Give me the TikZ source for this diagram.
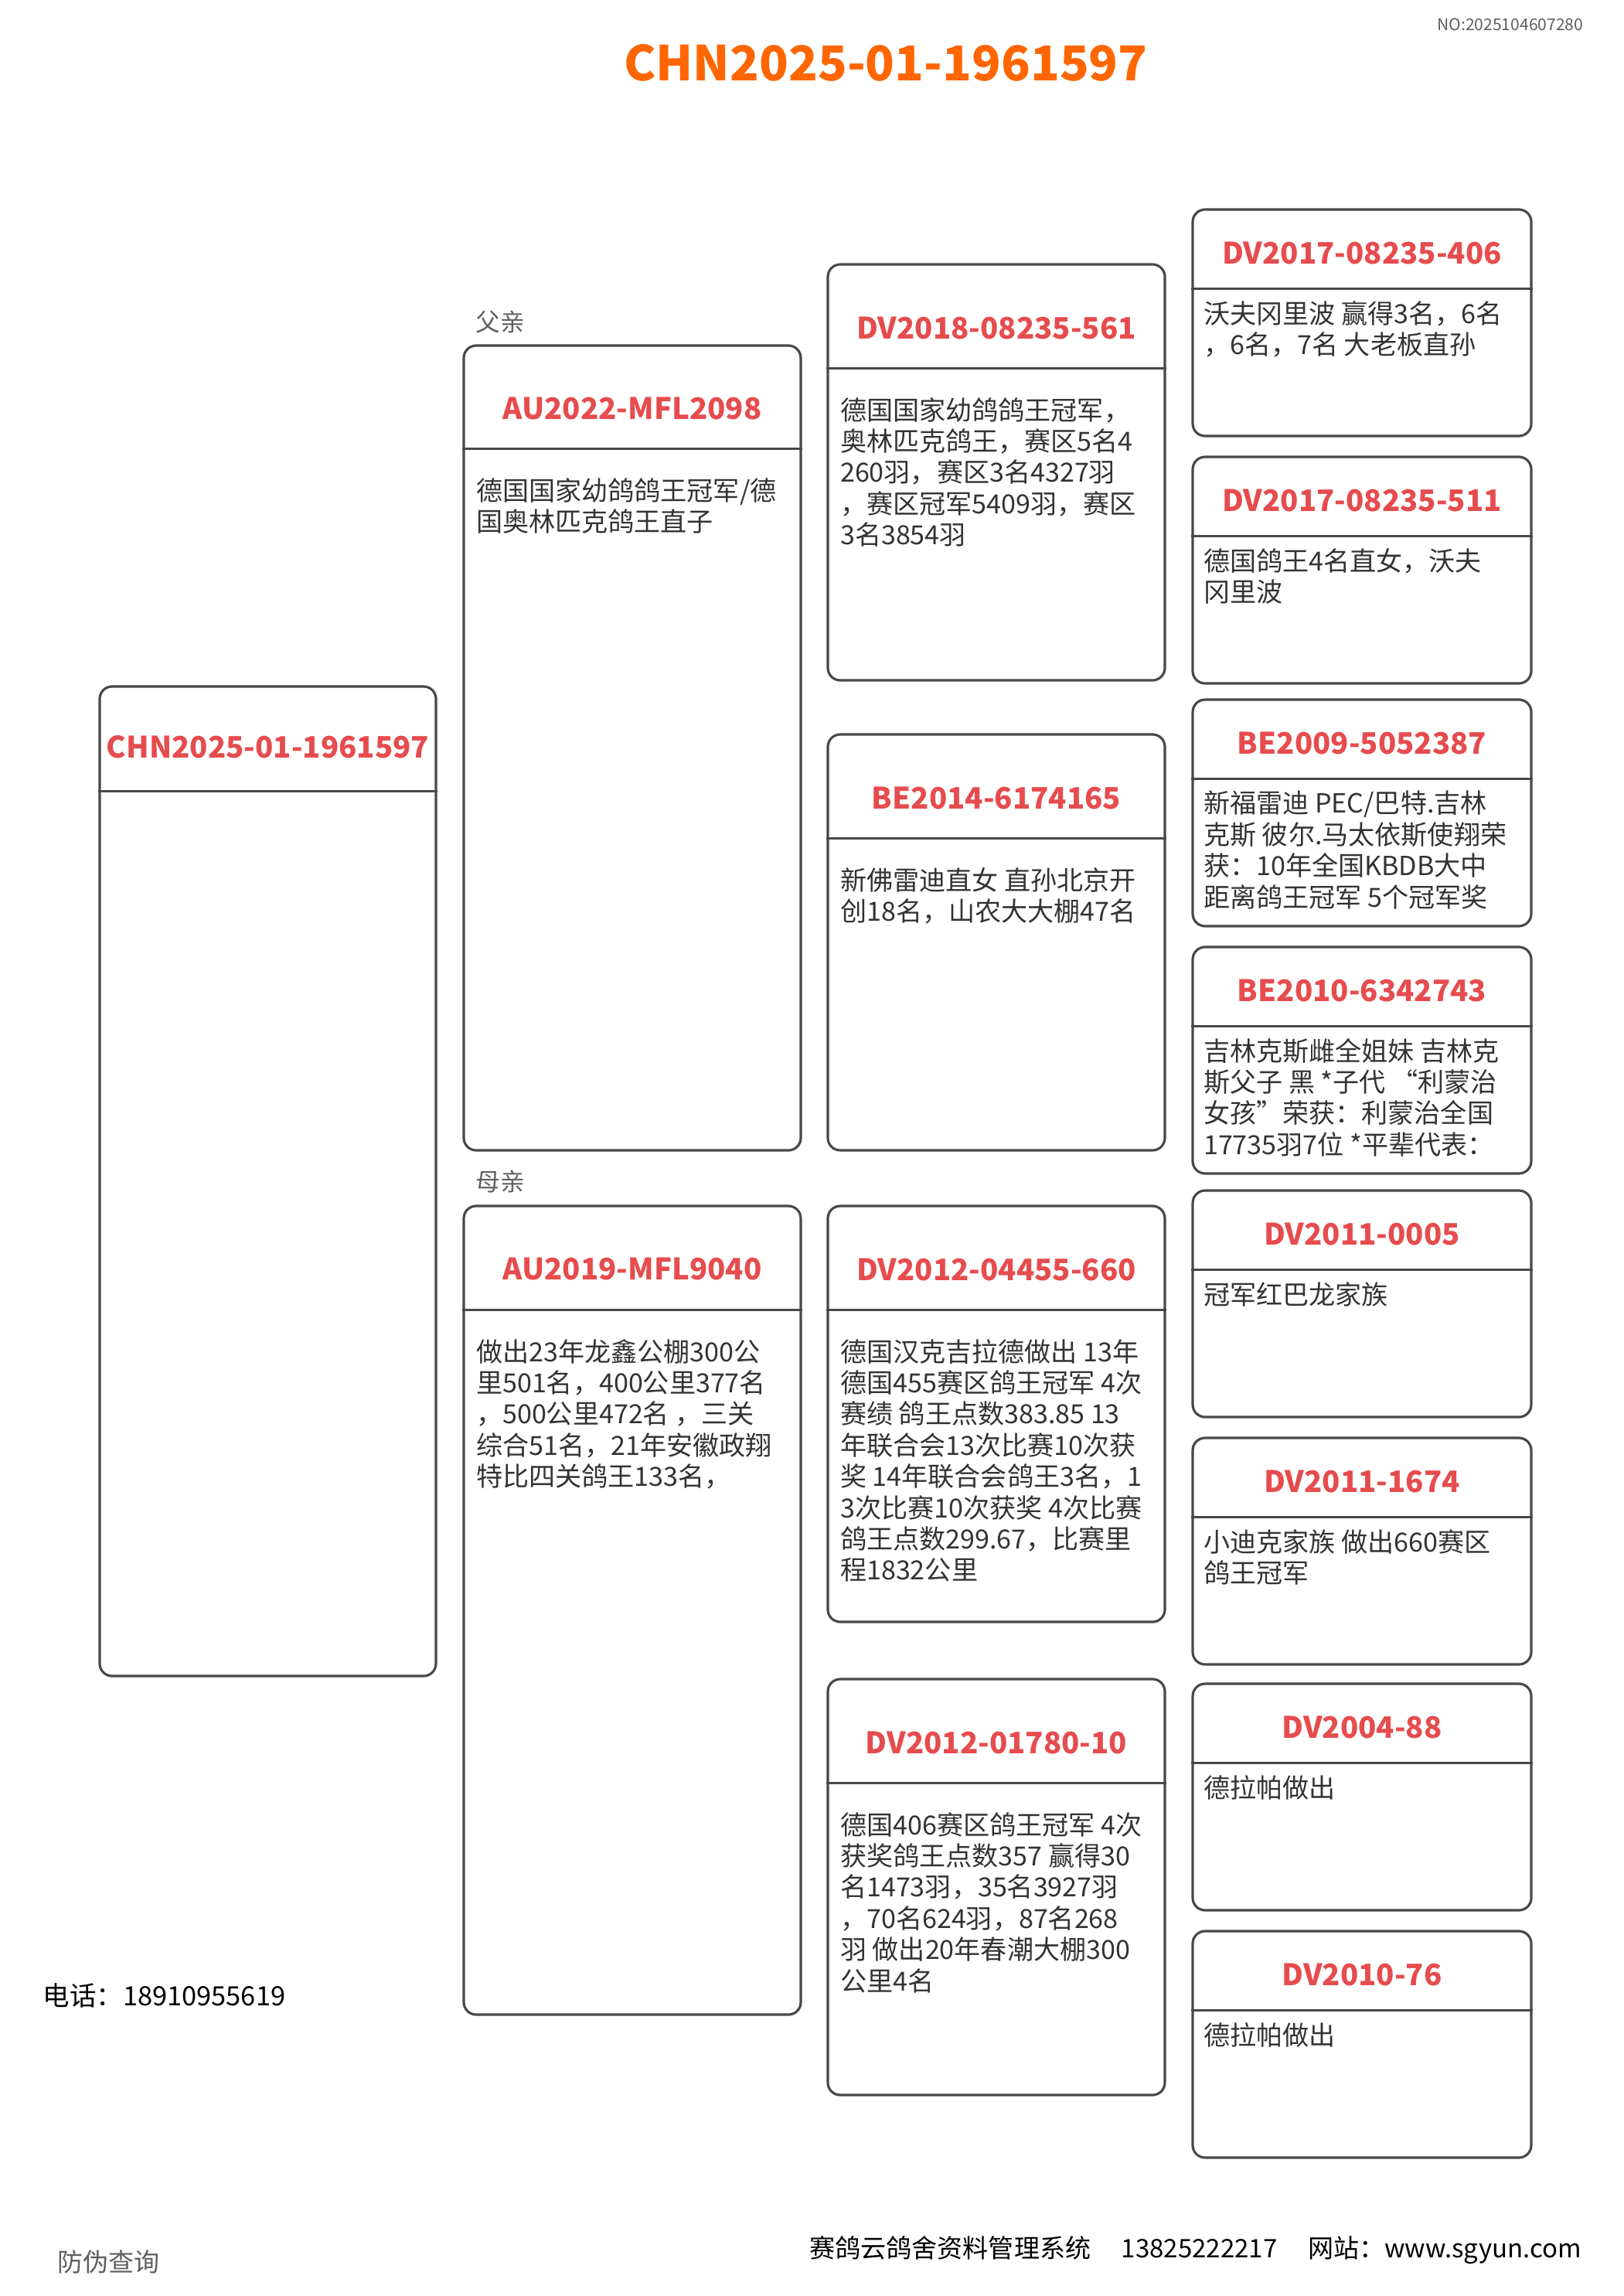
\documentclass[tikz,border=0pt]{standalone}
\usepackage{fontspec}
\setmainfont{Noto Sans CJK SC}
\usetikzlibrary{positioning,calc}

\definecolor{ringred}{RGB}{230,76,78}
\definecolor{headorange}{RGB}{255,102,0}
\definecolor{ink}{RGB}{51,51,51}
\definecolor{boxline}{RGB}{72,72,72}
\definecolor{tagGrey}{RGB}{95,95,95}

\begin{document}
\begin{tikzpicture}[
    frame/.style={draw=boxline, line width=0.9pt, rounded corners=0.16cm, inner sep=0pt, minimum width=4.36cm},
    rule/.style={draw=boxline, line width=0.9pt},
    ring/.style={text=ringred, font=\bfseries\fontsize{10.9}{13}\selectfont},
    note/.style={text=ink, align=left, anchor=north west, inner sep=0pt, font=\fontsize{9.7}{11.5}\selectfont},
    tag/.style={text=tagGrey, anchor=west, inner sep=0pt, font=\fontsize{9}{11}\selectfont},
    foot/.style={anchor=west, inner sep=0pt, font=\fontsize{9.4}{11}\selectfont},
]

\useasboundingbox[fill=white] (0,0) rectangle (21,-29.7);

% Header
\node[text=headorange, font=\bfseries\fontsize{17.7}{21}\selectfont] (title) at (11.46,-0.81) {CHN2025-01-1961597};
\node[anchor=east, inner sep=0pt, text=tagGrey, font=\fontsize{6}{7}\selectfont] (serial) at (20.49,-0.32) {NO:2025104607280};

% Bird
\node[frame, minimum width=4.35cm, minimum height=12.8cm] (bird) at (3.465,-15.28) {};
\draw[rule] ([yshift=-1.37cm]bird.north west) -- ([yshift=-1.37cm]bird.north east);
\node[ring] (birdId) at ([yshift=-0.8cm]bird.north) {CHN2025-01-1961597};

% Sire
\node[tag] (sireTag) at (6.15,-4.17) {父亲};
\node[frame, minimum height=10.41cm] (sire) at (8.18,-9.675) {};
\draw[rule] ([yshift=-1.35cm]sire.north west) -- ([yshift=-1.35cm]sire.north east);
\node[ring] (sireId) at ([yshift=-0.83cm]sire.north) {AU2022-MFL2098};
\node[note] (sireNote) at ([xshift=0.17cm,yshift=-1.72cm]sire.north west) {德国国家幼鸽鸽王冠军/德\\国奥林匹克鸽王直子};

% Dam
\node[tag] (damTag) at (6.15,-15.28) {母亲};
\node[frame, minimum height=10.46cm] (dam) at (8.18,-20.83) {};
\draw[rule] ([yshift=-1.36cm]dam.north west) -- ([yshift=-1.36cm]dam.north east);
\node[ring] (damId) at ([yshift=-0.83cm]dam.north) {AU2019-MFL9040};
\node[note] (damNote) at ([xshift=0.17cm,yshift=-1.73cm]dam.north west) {做出23年龙鑫公棚300公\\里501名，400公里377名\\，500公里472名 ，三关\\综合51名，21年安徽政翔\\特比四关鸽王133名，};

% Grandparents
\node[frame, minimum height=5.38cm] (gp1) at (12.89,-6.11) {};
\draw[rule] ([yshift=-1.36cm]gp1.north west) -- ([yshift=-1.36cm]gp1.north east);
\node[ring] (gp1Id) at ([yshift=-0.84cm]gp1.north) {DV2018-08235-561};
\node[note] (gp1Note) at ([xshift=0.17cm,yshift=-1.73cm]gp1.north west) {德国国家幼鸽鸽王冠军，\\奥林匹克鸽王，赛区5名4\\260羽，赛区3名4327羽\\，赛区冠军5409羽，赛区\\3名3854羽};

\node[frame, minimum height=5.38cm] (gp2) at (12.89,-12.19) {};
\draw[rule] ([yshift=-1.36cm]gp2.north west) -- ([yshift=-1.36cm]gp2.north east);
\node[ring] (gp2Id) at ([yshift=-0.84cm]gp2.north) {BE2014-6174165};
\node[note] (gp2Note) at ([xshift=0.17cm,yshift=-1.73cm]gp2.north west) {新佛雷迪直女 直孙北京开\\创18名，山农大大棚47名};

\node[frame, minimum height=5.38cm] (gp3) at (12.89,-18.29) {};
\draw[rule] ([yshift=-1.36cm]gp3.north west) -- ([yshift=-1.36cm]gp3.north east);
\node[ring] (gp3Id) at ([yshift=-0.84cm]gp3.north) {DV2012-04455-660};
\node[note] (gp3Note) at ([xshift=0.17cm,yshift=-1.73cm]gp3.north west) {德国汉克吉拉德做出 13年\\德国455赛区鸽王冠军 4次\\赛绩 鸽王点数383.85 13\\年联合会13次比赛10次获\\奖 14年联合会鸽王3名，1\\3次比赛10次获奖 4次比赛\\鸽王点数299.67，比赛里\\程1832公里};

\node[frame, minimum height=5.38cm] (gp4) at (12.89,-24.41) {};
\draw[rule] ([yshift=-1.36cm]gp4.north west) -- ([yshift=-1.36cm]gp4.north east);
\node[ring] (gp4Id) at ([yshift=-0.84cm]gp4.north) {DV2012-01780-10};
\node[note] (gp4Note) at ([xshift=0.17cm,yshift=-1.73cm]gp4.north west) {德国406赛区鸽王冠军 4次\\获奖鸽王点数357 赢得30\\名1473羽，35名3927羽\\，70名624羽，87名268\\羽 做出20年春潮大棚300\\公里4名};

% Great-grandparents
\node[frame, minimum width=4.38cm, minimum height=2.93cm] (ggp1) at (17.62,-4.175) {};
\draw[rule] ([yshift=-1.04cm]ggp1.north west) -- ([yshift=-1.04cm]ggp1.north east);
\node[ring] (ggp1Id) at ([yshift=-0.58cm]ggp1.north) {DV2017-08235-406};
\node[note] (ggp1Note) at ([xshift=0.15cm,yshift=-1.19cm]ggp1.north west) {沃夫冈里波 赢得3名，6名\\，6名，7名 大老板直孙};

\node[frame, minimum width=4.38cm, minimum height=2.93cm] (ggp2) at (17.62,-7.375) {};
\draw[rule] ([yshift=-1.04cm]ggp2.north west) -- ([yshift=-1.04cm]ggp2.north east);
\node[ring] (ggp2Id) at ([yshift=-0.58cm]ggp2.north) {DV2017-08235-511};
\node[note] (ggp2Note) at ([xshift=0.15cm,yshift=-1.19cm]ggp2.north west) {德国鸽王4名直女，沃夫\\冈里波};

\node[frame, minimum width=4.38cm, minimum height=2.93cm] (ggp3) at (17.62,-10.515) {};
\draw[rule] ([yshift=-1.04cm]ggp3.north west) -- ([yshift=-1.04cm]ggp3.north east);
\node[ring] (ggp3Id) at ([yshift=-0.58cm]ggp3.north) {BE2009-5052387};
\node[note] (ggp3Note) at ([xshift=0.15cm,yshift=-1.19cm]ggp3.north west) {新福雷迪 PEC/巴特.吉林\\克斯 彼尔.马太依斯使翔荣\\获：10年全国KBDB大中\\距离鸽王冠军 5个冠军奖};

\node[frame, minimum width=4.38cm, minimum height=2.93cm] (ggp4) at (17.62,-13.715) {};
\draw[rule] ([yshift=-1.04cm]ggp4.north west) -- ([yshift=-1.04cm]ggp4.north east);
\node[ring] (ggp4Id) at ([yshift=-0.58cm]ggp4.north) {BE2010-6342743};
\node[note] (ggp4Note) at ([xshift=0.15cm,yshift=-1.19cm]ggp4.north west) {吉林克斯雌全姐妹 吉林克\\斯父子 黑 *子代 “利蒙治\\女孩”荣获：利蒙治全国\\17735羽7位 *平辈代表：};

\node[frame, minimum width=4.38cm, minimum height=2.93cm] (ggp5) at (17.62,-16.865) {};
\draw[rule] ([yshift=-1.04cm]ggp5.north west) -- ([yshift=-1.04cm]ggp5.north east);
\node[ring] (ggp5Id) at ([yshift=-0.58cm]ggp5.north) {DV2011-0005};
\node[note] (ggp5Note) at ([xshift=0.15cm,yshift=-1.19cm]ggp5.north west) {冠军红巴龙家族};

\node[frame, minimum width=4.38cm, minimum height=2.93cm] (ggp6) at (17.62,-20.065) {};
\draw[rule] ([yshift=-1.04cm]ggp6.north west) -- ([yshift=-1.04cm]ggp6.north east);
\node[ring] (ggp6Id) at ([yshift=-0.58cm]ggp6.north) {DV2011-1674};
\node[note] (ggp6Note) at ([xshift=0.15cm,yshift=-1.19cm]ggp6.north west) {小迪克家族 做出660赛区\\鸽王冠军};

\node[frame, minimum width=4.38cm, minimum height=2.93cm] (ggp7) at (17.62,-23.245) {};
\draw[rule] ([yshift=-1.04cm]ggp7.north west) -- ([yshift=-1.04cm]ggp7.north east);
\node[ring] (ggp7Id) at ([yshift=-0.58cm]ggp7.north) {DV2004-88};
\node[note] (ggp7Note) at ([xshift=0.15cm,yshift=-1.19cm]ggp7.north west) {德拉帕做出};

\node[frame, minimum width=4.38cm, minimum height=2.93cm] (ggp8) at (17.62,-26.445) {};
\draw[rule] ([yshift=-1.04cm]ggp8.north west) -- ([yshift=-1.04cm]ggp8.north east);
\node[ring] (ggp8Id) at ([yshift=-0.58cm]ggp8.north) {DV2010-76};
\node[note] (ggp8Note) at ([xshift=0.15cm,yshift=-1.19cm]ggp8.north west) {德拉帕做出};

% Footer
\node[foot, font=\fontsize{9.8}{11}\selectfont] (phone) at (0.55,-25.81) {电话：18910955619};
\node[foot, text=tagGrey] (verify) at (0.74,-29.26) {防伪查询};
\node[foot] (system) at (10.47,-29.11) {赛鸽云鸽舍资料管理系统\hspace{1.2em}13825222217\hspace{1.2em}网站：www.sgyun.com};

\end{tikzpicture}
\end{document}
